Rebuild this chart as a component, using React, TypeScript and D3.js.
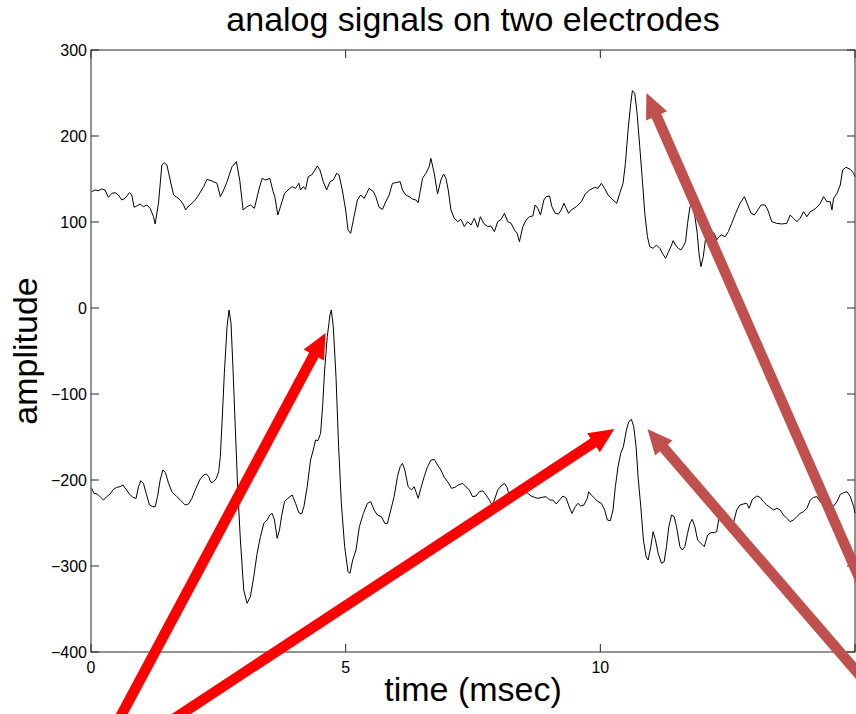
import React from 'react';
import * as d3 from 'd3';

const titleText = 'analog signals on two electrodes';
const xLabelText = 'time (msec)';
const yLabelText = 'amplitude';

const xDomain: [number, number] = [0, 15];
const yDomain: [number, number] = [-400, 300];
const xTicks = [0, 5, 10, 15];
const xTickLabels = ['0', '5', '10', ''];
const yTicks = [300, 200, 100, 0, -100, -200, -300, -400];

// electrode 1 (upper trace): [time msec, amplitude]
const electrode1: [number, number][] = [
  [0.013, 135.3], [0.079, 137.2], [0.144, 136.4], [0.21, 138.4], [0.276, 137.2], [0.341, 128.7],
  [0.407, 133.3], [0.472, 134.1], [0.538, 131.4], [0.604, 125.6], [0.669, 127.5], [0.755, 134.1],
  [0.801, 131.4], [0.846, 117.1], [0.899, 118.6], [0.965, 120.9], [1.03, 117.8], [1.096, 119.8],
  [1.161, 115.9], [1.227, 106.2], [1.26, 97.7], [1.325, 121.7], [1.391, 166.3], [1.437, 169.0],
  [1.49, 166.3], [1.555, 148.8], [1.621, 131.4], [1.686, 128.7], [1.752, 125.6], [1.818, 119.8],
  [1.857, 114.0], [1.916, 118.6], [1.982, 121.7], [2.047, 125.6], [2.113, 131.4], [2.211, 141.1],
  [2.277, 149.6], [2.356, 148.1], [2.474, 145.0], [2.539, 129.5], [2.605, 137.2], [2.671, 146.9],
  [2.769, 164.3], [2.854, 170.2], [2.92, 148.8], [2.986, 114.0], [3.064, 117.8], [3.13, 119.8],
  [3.209, 115.9], [3.294, 137.2], [3.36, 150.8], [3.425, 148.8], [3.511, 150.8], [3.576, 135.3],
  [3.609, 129.5], [3.668, 108.1], [3.72, 117.8], [3.799, 133.3], [3.885, 138.0], [3.95, 141.1],
  [4.016, 139.1], [4.081, 145.0], [4.114, 137.2], [4.167, 141.1], [4.213, 138.0], [4.265, 152.7],
  [4.331, 154.7], [4.377, 158.5], [4.442, 165.1], [4.495, 160.5], [4.56, 146.9], [4.626, 137.2],
  [4.692, 146.9], [4.757, 148.8], [4.823, 156.6], [4.869, 154.7], [4.934, 137.2], [5.0, 114.0],
  [5.046, 90.7], [5.098, 86.8], [5.164, 106.2], [5.23, 125.6], [5.295, 131.4], [5.361, 127.5],
  [5.413, 133.3], [5.459, 139.1], [5.545, 135.3], [5.591, 129.5], [5.656, 117.1], [5.722, 114.7],
  [5.787, 123.6], [5.853, 131.4], [5.919, 145.0], [5.984, 145.7], [6.07, 146.9], [6.115, 137.2],
  [6.181, 131.4], [6.247, 129.5], [6.312, 126.7], [6.378, 125.6], [6.424, 122.5], [6.509, 150.8],
  [6.575, 156.6], [6.64, 164.3], [6.673, 174.0], [6.739, 156.6], [6.804, 132.6], [6.87, 148.8],
  [6.923, 155.8], [6.969, 150.8], [7.014, 137.2], [7.067, 114.0], [7.133, 104.3], [7.198, 100.4],
  [7.264, 103.1], [7.329, 94.6], [7.395, 100.4], [7.461, 96.5], [7.526, 104.3], [7.592, 93.8],
  [7.644, 106.2], [7.71, 98.4], [7.789, 94.6], [7.854, 95.3], [7.92, 88.8], [7.986, 100.4],
  [8.051, 103.1], [8.117, 110.1], [8.182, 100.4], [8.248, 98.4], [8.314, 90.7], [8.366, 86.8],
  [8.412, 77.1], [8.478, 94.6], [8.543, 102.3], [8.609, 106.2], [8.675, 107.0], [8.72, 119.8],
  [8.773, 115.9], [8.825, 108.1], [8.891, 125.6], [8.937, 129.5], [9.003, 130.2], [9.049, 117.8],
  [9.114, 110.1], [9.18, 109.3], [9.232, 114.0], [9.285, 121.7], [9.331, 115.9], [9.377, 110.1],
  [9.429, 114.0], [9.528, 117.8], [9.626, 123.6], [9.705, 132.6], [9.79, 137.2], [9.888, 140.3],
  [9.954, 139.1], [10.02, 145.0], [10.085, 139.1], [10.151, 131.4], [10.249, 125.6], [10.322, 121.7],
  [10.381, 133.3], [10.446, 145.0], [10.492, 168.2], [10.545, 207.0], [10.597, 238.0], [10.63, 252.7],
  [10.676, 249.6], [10.722, 226.4], [10.774, 187.6], [10.82, 152.7], [10.873, 110.1], [10.925, 82.9],
  [10.971, 71.3], [11.037, 69.4], [11.102, 73.3], [11.168, 69.4], [11.22, 63.6], [11.28, 57.8],
  [11.332, 64.3], [11.385, 71.3], [11.43, 78.3], [11.476, 73.3], [11.529, 69.4], [11.581, 67.4],
  [11.627, 71.3], [11.673, 77.1], [11.713, 98.4], [11.759, 117.8], [11.805, 119.8], [11.857, 106.2],
  [11.903, 86.8], [11.936, 63.6], [11.975, 48.1], [12.021, 59.7], [12.067, 81.0], [12.119, 88.8],
  [12.185, 88.8], [12.238, 86.8], [12.283, 79.1], [12.329, 82.9], [12.382, 84.9], [12.448, 82.9],
  [12.513, 88.8], [12.579, 98.4], [12.657, 110.1], [12.743, 121.7], [12.828, 129.5], [12.894, 119.8],
  [12.959, 110.1], [13.025, 108.1], [13.091, 114.0], [13.156, 119.8], [13.235, 119.8], [13.288, 114.0],
  [13.366, 100.4], [13.465, 98.4], [13.563, 97.7], [13.661, 98.4], [13.727, 108.1], [13.793, 104.3],
  [13.858, 100.4], [13.924, 104.3], [13.99, 112.0], [14.055, 106.2], [14.121, 112.0], [14.186, 114.0],
  [14.252, 117.1], [14.318, 121.7], [14.383, 129.5], [14.449, 123.6], [14.514, 123.6], [14.547, 114.0],
  [14.58, 127.5], [14.646, 133.3], [14.711, 143.0], [14.757, 160.5], [14.823, 163.6], [14.908, 161.2],
  [14.974, 156.6], [15.0, 152.7],
];

// electrode 2 (lower trace): [time msec, amplitude]
const electrode2: [number, number][] = [
  [0.013, -209.7], [0.059, -215.5], [0.125, -216.3], [0.19, -220.2], [0.243, -223.3], [0.308, -219.4],
  [0.374, -216.3], [0.44, -210.9], [0.505, -208.5], [0.571, -207.8], [0.623, -205.8], [0.689, -210.9],
  [0.755, -216.3], [0.82, -220.2], [0.886, -221.3], [0.932, -207.8], [0.978, -200.8], [1.03, -203.9],
  [1.083, -215.5], [1.148, -229.1], [1.214, -231.0], [1.26, -231.0], [1.306, -219.4], [1.358, -200.0],
  [1.411, -188.4], [1.463, -191.5], [1.522, -203.9], [1.588, -213.6], [1.686, -219.4], [1.752, -223.3],
  [1.85, -229.1], [1.916, -227.9], [1.982, -221.3], [2.047, -211.6], [2.133, -200.0], [2.211, -194.2],
  [2.264, -193.0], [2.31, -196.1], [2.356, -203.1], [2.408, -201.9], [2.461, -198.1], [2.507, -190.3],
  [2.539, -172.9], [2.572, -134.1], [2.618, -76.0], [2.671, -21.7], [2.71, -2.3], [2.749, -17.8],
  [2.789, -72.1], [2.835, -141.9], [2.881, -211.6], [2.933, -269.8], [2.999, -327.9], [3.064, -343.4],
  [3.13, -335.7], [3.196, -312.4], [3.261, -285.3], [3.327, -265.9], [3.392, -250.4], [3.458, -246.5],
  [3.511, -240.7], [3.556, -238.8], [3.602, -246.5], [3.655, -267.8], [3.701, -258.1], [3.74, -242.6],
  [3.799, -225.2], [3.865, -221.3], [3.95, -217.4], [4.016, -227.1], [4.081, -238.0], [4.134, -239.5],
  [4.18, -231.0], [4.245, -207.8], [4.311, -176.7], [4.364, -165.1], [4.409, -153.5], [4.455, -154.3],
  [4.508, -145.7], [4.547, -114.7], [4.587, -72.1], [4.639, -33.3], [4.692, -8.1], [4.718, -2.3],
  [4.757, -21.7], [4.81, -79.8], [4.862, -161.2], [4.915, -227.1], [4.98, -277.5], [5.046, -306.6],
  [5.085, -308.5], [5.138, -293.0], [5.203, -281.4], [5.269, -254.3], [5.348, -238.8], [5.427, -227.1],
  [5.492, -225.2], [5.558, -234.9], [5.623, -240.7], [5.702, -242.6], [5.768, -250.4], [5.82, -250.4],
  [5.886, -234.9], [5.951, -219.4], [6.017, -196.1], [6.07, -184.5], [6.115, -180.6], [6.161, -188.4],
  [6.227, -207.8], [6.293, -211.6], [6.345, -207.8], [6.424, -221.3], [6.476, -209.7], [6.542, -196.1],
  [6.608, -184.5], [6.673, -177.0], [6.739, -176.0], [6.804, -182.6], [6.87, -188.4], [6.936, -196.9],
  [7.001, -201.9], [7.08, -209.7], [7.146, -208.5], [7.211, -205.8], [7.297, -203.9], [7.362, -207.8],
  [7.428, -211.6], [7.493, -219.4], [7.559, -218.6], [7.625, -213.6], [7.69, -212.4], [7.756, -217.4],
  [7.822, -223.3], [7.874, -229.1], [7.92, -223.3], [7.986, -211.6], [8.051, -207.0], [8.117, -203.9],
  [8.169, -208.5], [8.215, -219.4], [8.261, -223.3], [8.314, -222.5], [8.379, -219.4], [8.445, -215.5],
  [8.51, -213.6], [8.576, -215.5], [8.642, -218.6], [8.707, -220.2], [8.773, -221.3], [8.852, -220.2],
  [8.937, -219.4], [9.003, -223.3], [9.068, -223.3], [9.134, -227.9], [9.199, -223.3], [9.265, -218.6],
  [9.331, -221.3], [9.383, -230.2], [9.442, -238.8], [9.508, -231.0], [9.56, -227.1], [9.613, -230.2],
  [9.678, -229.1], [9.744, -221.3], [9.77, -213.6], [9.823, -217.4], [9.888, -221.3], [9.954, -225.2],
  [10.02, -227.1], [10.085, -234.9], [10.138, -246.5], [10.197, -247.3], [10.249, -234.9], [10.295, -207.8],
  [10.348, -184.5], [10.4, -169.0], [10.453, -161.2], [10.512, -141.9], [10.558, -132.2], [10.61, -129.5],
  [10.656, -138.0], [10.702, -161.2], [10.741, -196.1], [10.794, -231.0], [10.846, -269.8], [10.899, -289.1],
  [10.938, -293.0], [10.991, -277.5], [11.037, -260.1], [11.083, -269.8], [11.135, -285.3], [11.201, -296.9],
  [11.253, -295.0], [11.299, -277.5], [11.345, -254.3], [11.398, -240.7], [11.45, -242.6], [11.496, -254.3],
  [11.562, -277.5], [11.608, -281.4], [11.66, -277.5], [11.713, -262.0], [11.759, -250.4], [11.805, -245.7],
  [11.857, -254.3], [11.909, -269.8], [11.975, -273.6], [12.041, -277.5], [12.106, -264.0], [12.172, -261.2],
  [12.238, -261.2], [12.283, -260.1], [12.329, -244.6], [12.382, -242.6], [12.434, -247.3], [12.5, -256.2],
  [12.546, -260.1], [12.612, -250.4], [12.677, -234.9], [12.743, -229.1], [12.808, -227.9], [12.874, -227.1],
  [12.92, -232.9], [12.986, -222.5], [13.071, -218.6], [13.136, -220.2], [13.202, -225.2], [13.268, -229.1],
  [13.333, -231.8], [13.399, -234.9], [13.465, -232.9], [13.53, -234.9], [13.596, -240.7], [13.661, -244.6],
  [13.727, -248.4], [13.793, -246.5], [13.858, -242.6], [13.924, -238.8], [13.99, -236.8], [14.055, -232.9],
  [14.121, -223.3], [14.186, -220.2], [14.252, -219.4], [14.318, -225.2], [14.383, -229.1], [14.449, -231.0],
  [14.514, -229.1], [14.58, -230.2], [14.646, -225.2], [14.711, -216.7], [14.777, -214.7], [14.843, -213.6],
  [14.908, -219.4], [14.974, -231.0], [15.0, -238.8],
];

// annotation arrows in data coordinates: tail -> tip
const arrowTails: [number, number][] = [[0.335, -502], [1.004, -502], [15.53, -374], [15.85, -479]];
const arrowTips: [number, number][] = [[4.606, -29], [10.276, -140.7], [10.906, 250], [10.925, -140.7]];
const arrowColors = ['#ff0000', '#ff0000', '#c0504d', '#c0504d'];

const W = 856;
const H = 714;
const M = { left: 91, right: 1, top: 50, bottom: 62 };
const FONT = '"Liberation Sans", Arial, Helvetica, sans-serif';

export default function App() {
  const x = d3.scaleLinear().domain(xDomain).range([M.left, W - M.right]);
  const y = d3.scaleLinear().domain(yDomain).range([H - M.bottom, M.top]);
  const line = d3
    .line<[number, number]>()
    .x((d) => x(d[0]))
    .y((d) => y(d[1]));
  const fmt = d3.format('');
  const x0 = x(xDomain[0]);
  const x1 = x(xDomain[1]);
  const y0 = y(yDomain[0]);
  const y1 = y(yDomain[1]);
  const tickLen = 8;
  const axisColor = '#262626';

  const arrowEls = arrowTails.map((tail, i) => {
    const tip = arrowTips[i];
    const tx = x(tail[0]);
    const ty = y(tail[1]);
    const px = x(tip[0]);
    const py = y(tip[1]);
    const dx = px - tx;
    const dy = py - ty;
    const len = Math.hypot(dx, dy);
    const ux = dx / len;
    const uy = dy / len;
    const headLen = 25;
    const headHalf = 11.5;
    const bx = px - ux * headLen;
    const by = py - uy * headLen;
    const pts = [
      [px, py],
      [bx - uy * headHalf, by + ux * headHalf],
      [bx + uy * headHalf, by - ux * headHalf],
    ]
      .map((p) => p.join(','))
      .join(' ');
    return (
      <g key={i}>
        <line x1={tx} y1={ty} x2={bx + ux * 2} y2={by + uy * 2} stroke={arrowColors[i]} strokeWidth={10.5} />
        <polygon points={pts} fill={arrowColors[i]} />
      </g>
    );
  });

  return (
    <svg
      width={W}
      height={H}
      style={{ position: 'absolute', left: 0, top: 0, background: '#fff' }}
      fontFamily={FONT}
    >
      <rect x={0} y={0} width={W} height={H} fill="#fff" />
      {/* traces */}
      <path d={line(electrode1) || ''} fill="none" stroke="#000" strokeWidth={1} />
      <path d={line(electrode2) || ''} fill="none" stroke="#000" strokeWidth={1} />
      {/* axes box */}
      <rect x={x0} y={y1} width={x1 - x0} height={y0 - y1} fill="none" stroke={axisColor} strokeWidth={1} />
      {yTicks.map((t) => (
        <g key={'y' + t}>
          <line x1={x0} x2={x0 + tickLen} y1={y(t)} y2={y(t)} stroke={axisColor} />
          <line x1={x1} x2={x1 - tickLen} y1={y(t)} y2={y(t)} stroke={axisColor} />
          <text x={x0 - 4} y={y(t) + 5.8} textAnchor="end" fontSize={16} fill="#000">
            {fmt(t).replace('-', '\u2013')}
          </text>
        </g>
      ))}
      {xTicks.map((t, i) => (
        <g key={'x' + t}>
          <line x1={x(t)} x2={x(t)} y1={y0} y2={y0 - tickLen} stroke={axisColor} />
          <line x1={x(t)} x2={x(t)} y1={y1} y2={y1 + tickLen} stroke={axisColor} />
          <text x={x(t)} y={y0 + 21} textAnchor="middle" fontSize={16} fill="#000">
            {xTickLabels[i]}
          </text>
        </g>
      ))}
      <text x={(x0 + x1) / 2} y={31} textAnchor="middle" fontSize={34} fill="#000">
        {titleText}
      </text>
      <text x={(x0 + x1) / 2} y={701} textAnchor="middle" fontSize={34} fill="#000">
        {xLabelText}
      </text>
      <text
        transform={`translate(37, ${(y0 + y1) / 2}) rotate(-90)`}
        textAnchor="middle"
        fontSize={34}
        fill="#000"
      >
        {yLabelText}
      </text>
      {arrowEls}
    </svg>
  );
}
